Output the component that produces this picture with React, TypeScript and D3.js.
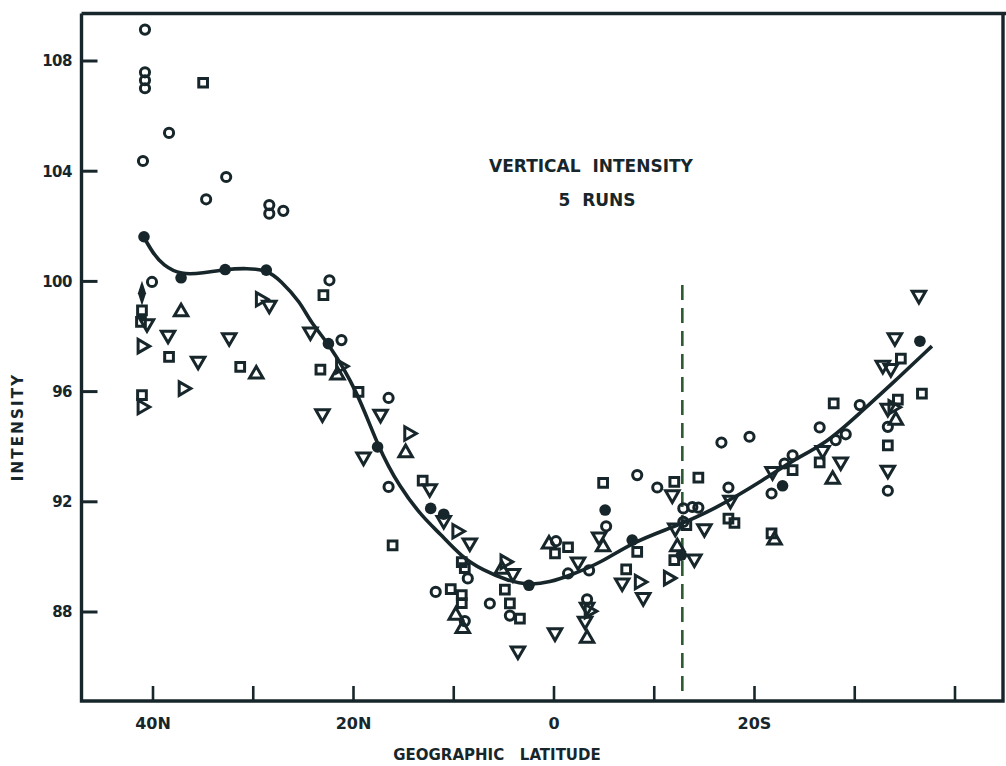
import React, { useEffect, useRef } from "react";
import * as d3 from "d3";

// chart values (latitude: + north, - south)
const yTicks = [88, 92, 96, 100, 104, 108];
const xTicks = [40, 30, 20, 10, 0, -10, -20, -30, -40];
const xTickLabels = ["40N", "", "20N", "", "0", "", "20S", "", ""];
const titleLines = ["VERTICAL  INTENSITY", "5  RUNS"];
const dashedLat = -12.8;

// smooth fitted curve
const curveLat = [40.9, 40.0, 39.0, 37.2, 35.0, 32.8, 30.6, 28.6, 27.3, 25.3, 24.3, 22.5, 19.65, 17.55, 15.4, 13.1, 11.4, 9.2, 7.1, 4.7, 2.5, 0.4, -1.6, -4.6, -7.8, -11.9, -15.9, -21.2, -23.8, -27.2, -30.5, -33.8, -37.7];
const curveVal = [101.6, 101.02, 100.59, 100.23, 100.3, 100.44, 100.48, 100.41, 100.04, 99.25, 98.52, 97.76, 96.05, 93.98, 92.53, 91.44, 90.86, 89.99, 89.52, 89.15, 88.97, 89.08, 89.33, 89.77, 90.53, 91.08, 91.7, 92.86, 93.51, 94.13, 95.22, 96.31, 97.65];

// runs, one symbol each: [lat, intensity]
const circles: [number, number][] = [
  [40.8, 109.14], [40.8, 107.59], [40.8, 107.3], [40.8, 107.01], [38.4, 105.39], [41.0, 104.37],
  [32.7, 103.79], [34.7, 102.98], [28.4, 102.77], [28.4, 102.46], [27.0, 102.56], [40.1, 99.98],
  [22.4, 100.04], [21.2, 97.87], [16.5, 95.77], [16.5, 92.54], [8.6, 89.22], [11.8, 88.73],
  [6.4, 88.31], [4.4, 87.87], [8.9, 87.67], [-0.2, 90.57], [-1.4, 89.4], [-3.5, 89.51],
  [-3.3, 88.46], [-5.2, 91.11], [-8.3, 92.97], [-10.3, 92.52], [-12.9, 91.76], [-13.8, 91.81],
  [-14.4, 91.79], [-12.9, 91.27], [-16.7, 94.15], [-19.5, 94.36], [-17.4, 92.52], [-21.7, 92.3],
  [-23.8, 93.69], [-23.0, 93.39], [-26.5, 94.7], [-28.1, 94.24], [-29.1, 94.45], [-30.5, 95.51],
  [-33.3, 94.72], [-33.3, 92.4],
];
const squares: [number, number][] = [
  [35.0, 107.21], [23.0, 99.5], [23.3, 96.8], [19.5, 95.99], [13.1, 92.77], [16.1, 90.42],
  [9.2, 89.81], [8.9, 89.59], [10.3, 88.83], [9.2, 88.61], [9.2, 88.32], [4.9, 88.81],
  [4.4, 88.31], [3.4, 87.76], [-0.1, 90.13], [-1.4, 90.35], [-4.9, 92.69], [-12.0, 92.72],
  [-14.4, 92.88], [-13.2, 91.15], [-8.3, 90.18], [-12.0, 89.88], [-7.2, 89.55], [-17.4, 91.39],
  [-18.0, 91.23], [-21.7, 90.85], [-23.8, 93.15], [-26.5, 93.43], [-27.9, 95.57], [-33.3, 94.05],
  [-34.3, 95.71], [-34.6, 97.2], [-36.7, 95.93], [41.1, 98.95], [41.2, 98.53], [38.4, 97.26],
  [31.3, 96.9], [41.1, 95.87],
];
const trianglesUp: [number, number][] = [
  [37.2, 98.89], [29.7, 96.63], [21.6, 96.6], [14.8, 93.78], [9.8, 87.88], [9.1, 87.4],
  [5.2, 89.55], [0.5, 90.46], [-3.3, 87.04], [-4.9, 90.36], [-12.3, 90.36], [-22.0, 90.61],
  [-27.8, 92.81], [-34.1, 94.96],
];
const trianglesDown: [number, number][] = [
  [40.6, 98.47], [38.5, 98.05], [32.4, 97.96], [35.5, 97.11], [28.4, 99.14], [24.3, 98.17],
  [23.1, 95.2], [17.3, 95.18], [19.0, 93.63], [12.4, 92.48], [8.4, 90.51], [4.1, 89.4],
  [3.6, 86.59], [-0.1, 87.25], [-2.4, 89.82], [-3.3, 88.18], [-3.1, 87.67], [-4.5, 90.73],
  [-6.8, 89.06], [-8.9, 88.53], [-11.8, 92.26], [-12.1, 91.05], [-15.0, 91.03], [-14.0, 89.93],
  [-17.6, 92.06], [-21.8, 93.1], [-26.8, 93.87], [-28.6, 93.45], [-33.3, 93.15], [-33.3, 95.4],
  [-32.8, 96.96], [-33.6, 96.84], [-34.0, 97.96], [-36.4, 99.5], [11.0, 91.33],
];
const trianglesRight: [number, number][] = [
  [41.1, 97.65], [37.0, 96.11], [41.1, 95.44], [29.3, 99.35], [21.3, 96.92], [14.5, 94.48],
  [9.7, 90.93], [4.9, 89.82], [-3.5, 88.03], [-8.5, 89.09], [-11.4, 89.23], [-33.8, 95.43],
];
const filled: [number, number][] = [
  [40.9, 101.62], [37.2, 100.13], [32.8, 100.43], [28.7, 100.41], [22.5, 97.74], [17.6, 93.99],
  [12.3, 91.76], [11.0, 91.55], [2.5, 88.97], [-5.1, 91.7], [-7.8, 90.61], [-12.7, 90.06],
  [-22.8, 92.58], [-36.5, 97.83],
];
const diamonds: [number, number][] = [[41.1, 99.57]];

const INK = "#17262a";
const FONT = "'DejaVu Sans', sans-serif";

export default function App() {
  const ref = useRef<SVGSVGElement>(null);

  useEffect(() => {
    document.body.style.margin = "0";
    const svg = d3.select(ref.current);
    svg.selectAll("*").remove();

    const x = d3.scaleLinear().domain([40, -40]).range([153, 955]);
    const y = d3.scaleLinear().domain([88, 108]).range([612, 61]);
    const left = 81.5, right = 1003, top = 13.5, bottom = 701;

    svg.append("rect").attr("width", 1006).attr("height", 766).attr("fill", "#ffffff");

    //frame
    svg.append("path")
      .attr("d", `M${left},${top}H1006M${left},${top}V${bottom}H${right}V${top}`)
      .attr("fill", "none").attr("stroke", INK).attr("stroke-width", 3.4);

    //y ticks and labels
    const yg = svg.append("g");
    yTicks.forEach(t => {
      yg.append("line").attr("x1", left).attr("x2", left + 16)
        .attr("y1", y(t)).attr("y2", y(t)).attr("stroke", INK).attr("stroke-width", 3);
      yg.append("text").attr("x", 72).attr("y", y(t)).attr("dy", "0.36em")
        .attr("text-anchor", "end").attr("font-family", FONT).attr("font-size", 15)
        .attr("font-weight", "bold").attr("letter-spacing", -0.5)
        .attr("fill", INK).text(t);
    });

    //x ticks and labels
    const xg = svg.append("g");
    xTicks.forEach((t, i) => {
      xg.append("line").attr("x1", x(t)).attr("x2", x(t))
        .attr("y1", bottom).attr("y2", bottom - 15).attr("stroke", INK).attr("stroke-width", 2.6);
      if (xTickLabels[i])
        xg.append("text").attr("x", x(t)).attr("y", 723).attr("dy", "0.36em")
          .attr("text-anchor", "middle").attr("font-family", FONT).attr("font-size", 16)
          .attr("font-weight", "bold").attr("fill", INK).text(xTickLabels[i]);
    });

    //dashed line
    svg.append("line").attr("x1", x(dashedLat)).attr("x2", x(dashedLat))
      .attr("y1", 285).attr("y2", bottom - 2).attr("stroke", "#2c5b33")
      .attr("stroke-width", 2.6).attr("stroke-dasharray", "15,8");

    //fitted curve
    const pts = curveLat.map((d, i) => [x(d), y(curveVal[i])] as [number, number]);
    svg.append("path")
      .attr("d", d3.line().curve(d3.curveBasis)(pts))
      .attr("fill", "none").attr("stroke", INK).attr("stroke-width", 3.6);

    //open symbols
    const sym = (data: [number, number][], type: d3.SymbolType, size: number, rot: number) => {
      svg.append("g").selectAll("path").data(data).enter().append("path")
        .attr("d", d3.symbol().type(type).size(size)())
        .attr("transform", d => `translate(${x(d[0])},${y(d[1])}) rotate(${rot})`)
        .attr("fill", "none").attr("stroke", INK).attr("stroke-width", 3);
    };
    sym(circles, d3.symbolCircle, 66, 0);
    sym(squares, d3.symbolSquare, 76, 0);
    sym(trianglesUp, d3.symbolTriangle, 78, 0);
    sym(trianglesDown, d3.symbolTriangle, 78, 180);
    sym(trianglesRight, d3.symbolTriangle, 78, 90);

    svg.append("g").selectAll("circle").data(filled).enter().append("circle")
      .attr("cx", d => x(d[0])).attr("cy", d => y(d[1])).attr("r", 5.8).attr("fill", INK);

    svg.append("g").selectAll("path").data(diamonds).enter().append("path")
      .attr("d", d3.symbol().type(d3.symbolDiamond).size(80)())
      .attr("transform", d => `translate(${x(d[0])},${y(d[1])}) scale(0.85,1.5)`)
      .attr("fill", INK);

    //titles
    titleLines.forEach((t, i) => {
      svg.append("text").attr("x", i === 0 ? 591 : 597).attr("y", 166 + i * 34).attr("dy", "0.36em")
        .attr("text-anchor", "middle").attr("font-family", FONT).attr("font-size", 17)
        .attr("font-weight", "bold").attr("fill", INK)
        .style("white-space", "pre").text(t);
    });

    svg.append("text").attr("x", 497).attr("y", 755).attr("dy", "0.36em")
      .attr("text-anchor", "middle").attr("font-family", FONT).attr("font-size", 15)
      .attr("font-weight", "bold").attr("fill", INK).style("white-space", "pre")
      .text("GEOGRAPHIC   LATITUDE");

    svg.append("text").attr("transform", "translate(18,427) rotate(-90)").attr("dy", "0.36em")
      .attr("text-anchor", "middle").attr("font-family", FONT).attr("font-size", 15)
      .attr("font-weight", "bold").attr("letter-spacing", 2.2).attr("fill", INK)
      .text("INTENSITY");
  }, []);

  return <svg ref={ref} width={1006} height={766} style={{ display: "block" }} />;
}
